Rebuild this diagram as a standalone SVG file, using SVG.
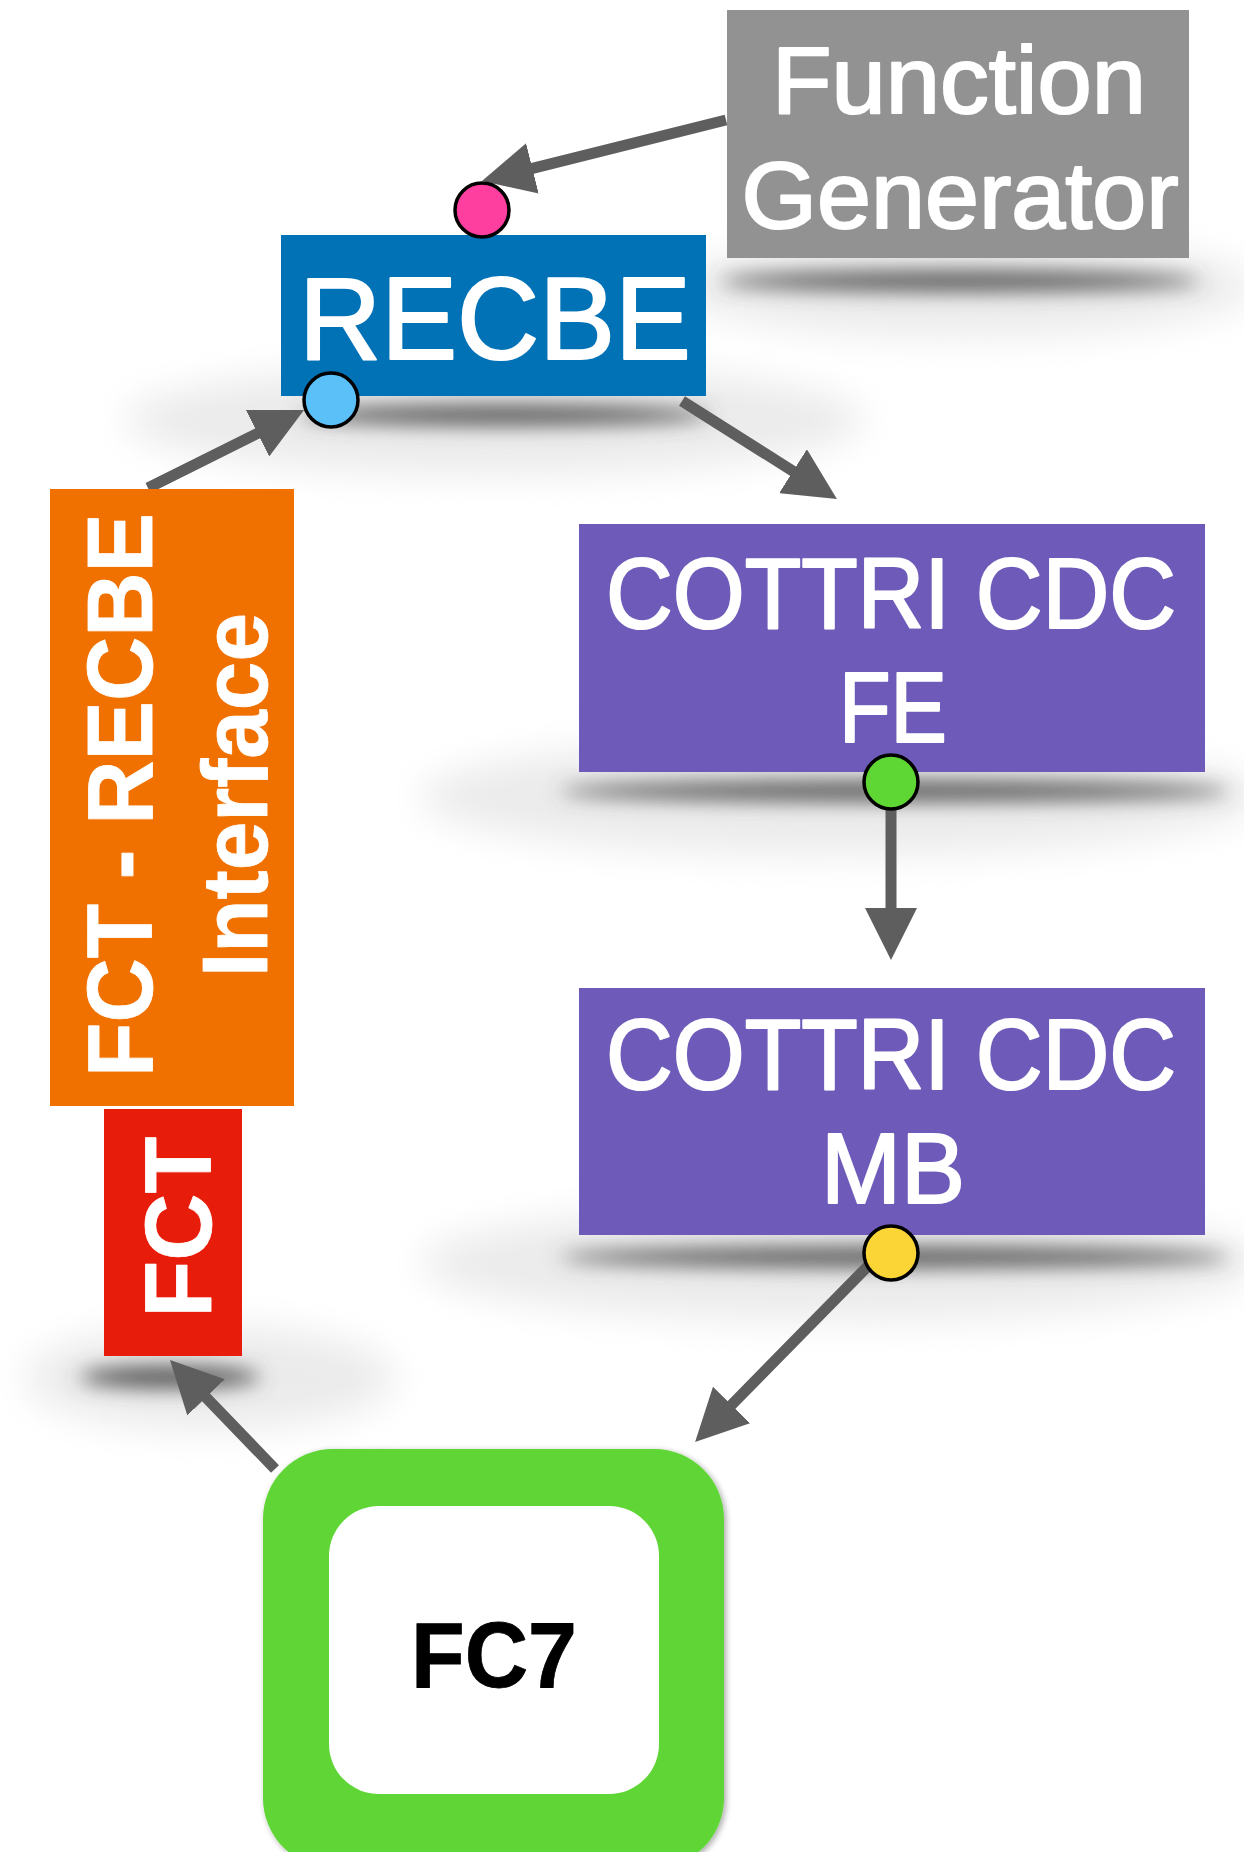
<svg xmlns="http://www.w3.org/2000/svg" width="1244" height="1852" viewBox="0 0 1244 1852">
<style>
.lbl{font-family:"Liberation Sans",Arial,sans-serif;fill:#fff;text-anchor:middle;stroke:#fff;stroke-width:2.2;stroke-linejoin:round}
.b{font-weight:bold;stroke-width:0.8}
.conn{stroke:#5e5e5e;stroke-width:11;fill:none;marker-end:url(#ah)}
.dot{stroke:#000;stroke-width:3.5}
.core{fill:#555;filter:url(#bs)}
.halo{fill:#ebebeb;filter:url(#bl)}
</style>
<defs>
<marker id="ah" markerUnits="userSpaceOnUse" markerWidth="52" markerHeight="52" viewBox="0 0 52 52" refX="40" refY="26" orient="auto">
<path d="M0,0 L52,26 L0,52 z" fill="#5e5e5e"/>
</marker>
<filter id="bs" x="-50%" y="-300%" width="200%" height="700%"><feGaussianBlur stdDeviation="10"/></filter>
<filter id="bl" x="-50%" y="-100%" width="200%" height="300%"><feGaussianBlur stdDeviation="18"/></filter>
<filter id="ds" x="-10%" y="-10%" width="120%" height="120%"><feGaussianBlur in="SourceAlpha" stdDeviation="3"/><feOffset dx="2" dy="2"/><feComponentTransfer><feFuncA type="linear" slope="0.35"/></feComponentTransfer><feMerge><feMergeNode/><feMergeNode in="SourceGraphic"/></feMerge></filter>
</defs>
<rect width="1244" height="1852" fill="#fff"/>
<g id="shadows">
<ellipse class="halo" cx="965" cy="287" rx="290" ry="50"/>
<ellipse class="core" cx="960" cy="281" rx="240" ry="10"/>
<ellipse class="halo" cx="495" cy="420" rx="370" ry="55"/>
<ellipse class="core" cx="505" cy="415" rx="205" ry="10"/>
<ellipse class="halo" cx="840" cy="797" rx="420" ry="58"/>
<ellipse class="core" cx="895" cy="791" rx="335" ry="10"/>
<ellipse class="halo" cx="840" cy="1263" rx="420" ry="58"/>
<ellipse class="core" cx="895" cy="1257" rx="335" ry="10"/>
<ellipse class="halo" cx="210" cy="1378" rx="185" ry="52"/>
<ellipse class="core" cx="170" cy="1377" rx="90" ry="11"/>
</g>
<g id="connectors">
<line class="conn" x1="726" y1="120" x2="493.6" y2="178.1"/>
<line class="conn" x1="148" y1="488" x2="293.3" y2="415.4"/>
<line class="conn" x1="682" y1="401" x2="826.8" y2="492.6"/>
<line class="conn" x1="891" y1="800" x2="891" y2="948"/>
<line class="conn" x1="869" y1="1265" x2="703.5" y2="1433.5"/>
<line class="conn" x1="275" y1="1469" x2="178.3" y2="1368.6"/>
</g>
<g id="function-generator">
<rect x="727" y="10" width="462" height="248" fill="#929292"/>
<text class="lbl" x="959" y="113" font-size="94" textLength="374" lengthAdjust="spacingAndGlyphs">Function</text>
<text class="lbl" x="960" y="228" font-size="94" textLength="437" lengthAdjust="spacingAndGlyphs">Generator</text>
</g>
<g id="recbe">
<rect x="281" y="235" width="425" height="161" fill="#0272b6"/>
<text class="lbl" x="495" y="359" font-size="116" textLength="392" lengthAdjust="spacingAndGlyphs">RECBE</text>
<circle class="dot" cx="482" cy="210" r="27" fill="#ff3fa0"/>
<circle class="dot" cx="331" cy="400" r="27" fill="#5bbff8"/>
</g>
<g id="fct-recbe-interface">
<rect x="50" y="489" width="244" height="617" fill="#f07100"/>
<text class="lbl b" transform="translate(152,795) rotate(-90)" font-size="92" textLength="564" lengthAdjust="spacingAndGlyphs">FCT - RECBE</text>
<text class="lbl b" transform="translate(267,795) rotate(-90)" font-size="92" textLength="364" lengthAdjust="spacingAndGlyphs">Interface</text>
</g>
<g id="fct">
<rect x="104" y="1109" width="138" height="247" fill="#e81c0a"/>
<text class="lbl b" transform="translate(211,1227) rotate(-90)" font-size="94" textLength="181" lengthAdjust="spacingAndGlyphs">FCT</text>
</g>
<g id="cottri-fe">
<rect x="579" y="524" width="626" height="248" fill="#6e5bb9"/>
<text class="lbl" x="891" y="628" font-size="100" textLength="570" lengthAdjust="spacingAndGlyphs">COTTRI CDC</text>
<text class="lbl" x="893" y="742" font-size="100" textLength="108" lengthAdjust="spacingAndGlyphs">FE</text>
<circle class="dot" cx="891" cy="782" r="27" fill="#5ed634"/>
</g>
<g id="cottri-mb">
<rect x="579" y="988" width="626" height="247" fill="#6e5bb9"/>
<text class="lbl" x="891" y="1089" font-size="100" textLength="570" lengthAdjust="spacingAndGlyphs">COTTRI CDC</text>
<text class="lbl" x="893" y="1203" font-size="100" textLength="144" lengthAdjust="spacingAndGlyphs">MB</text>
<circle class="dot" cx="891" cy="1253" r="27" fill="#fbd536"/>
</g>
<g id="fc7">
<rect x="263" y="1449" width="461" height="419" rx="70" ry="70" fill="#5ed634" filter="url(#ds)"/>
<rect x="329" y="1506" width="330" height="288" rx="50" ry="50" fill="#fff"/>
<text x="494" y="1687" font-family="Liberation Sans, Arial, sans-serif" font-weight="bold" font-size="92" fill="#000" stroke="#000" stroke-width="0.8" text-anchor="middle" textLength="166" lengthAdjust="spacingAndGlyphs">FC7</text>
</g>
</svg>
